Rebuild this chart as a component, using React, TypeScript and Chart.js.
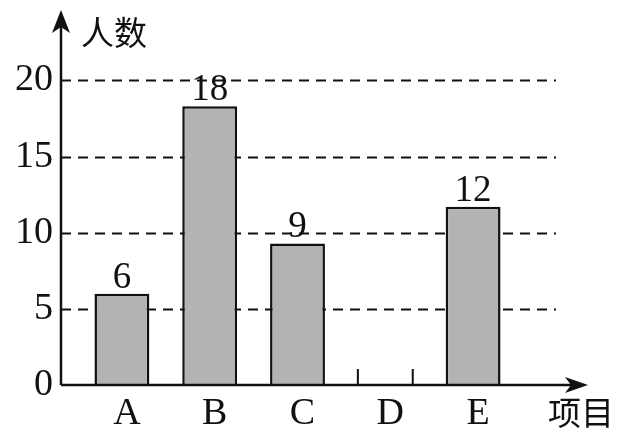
import React, { useEffect, useRef } from 'react';
import { Chart, registerables } from 'chart.js';

Chart.register(...registerables);

const categories = ['A', 'B', 'C', 'D', 'E'];
// bar heights as drawn in the picture (D is left blank)
const counts: (number | null)[] = [6, 18.3, 9.3, null, 11.7];
const valueLabels = ['6', '18', '9', '', '12'];
const yTicks = [0, 5, 10, 15, 20];
const yTitle = '人数';
const xTitle = '项目';

const SERIF = '"Liberation Serif", "DejaVu Serif", serif';
const CJK = '"Noto Sans CJK SC", sans-serif';

const axesPlugin = {
  id: 'axesPlugin',
  beforeDatasetsDraw(chart: any) {
    const { ctx, scales } = chart;
    const axisX = chart.chartArea.left - 17;
    ctx.save();
    ctx.strokeStyle = '#111';
    ctx.lineWidth = 2;
    ctx.setLineDash([10, 7]);
    yTicks.forEach((t) => {
      if (t === 0) return;
      const y = Math.round(scales.y.getPixelForValue(t)) + 0.5;
      ctx.beginPath();
      ctx.moveTo(axisX, y);
      ctx.lineTo(556, y);
      ctx.stroke();
    });
    ctx.restore();
  },
  afterDatasetsDraw(chart: any) {
    const { ctx, scales } = chart;
    const meta = chart.getDatasetMeta(0);
    const axisX = chart.chartArea.left - 17;
    const y0 = scales.y.getPixelForValue(0);
    const xEnd = 588;
    const yEnd = 10;
    ctx.save();
    ctx.strokeStyle = '#111';
    ctx.fillStyle = '#111';
    ctx.lineWidth = 2.5;

    // axes
    ctx.beginPath();
    ctx.moveTo(axisX, y0);
    ctx.lineTo(axisX, yEnd + 12);
    ctx.moveTo(axisX, y0);
    ctx.lineTo(xEnd - 12, y0);
    ctx.stroke();

    // arrow heads
    ctx.beginPath();
    ctx.moveTo(axisX, yEnd);
    ctx.lineTo(axisX - 9, yEnd + 23);
    ctx.lineTo(axisX, yEnd + 17);
    ctx.lineTo(axisX + 9, yEnd + 23);
    ctx.closePath();
    ctx.fill();
    ctx.beginPath();
    ctx.moveTo(xEnd, y0);
    ctx.lineTo(xEnd - 23, y0 - 8);
    ctx.lineTo(xEnd - 17, y0);
    ctx.lineTo(xEnd - 23, y0 + 8);
    ctx.closePath();
    ctx.fill();

    // small edge marks for the blank D bar
    const half = (meta.data[0]?.width ?? 55) / 2;
    const dx = scales.x.getPixelForValue(3);
    ctx.lineWidth = 2;
    ctx.beginPath();
    [dx - half, dx + half].forEach((x) => {
      ctx.moveTo(x, y0);
      ctx.lineTo(x, y0 - 16);
    });
    ctx.stroke();

    // value labels
    ctx.font = `37px ${SERIF}`;
    ctx.textAlign = 'center';
    ctx.textBaseline = 'alphabetic';
    meta.data.forEach((bar: any, i: number) => {
      if (!valueLabels[i] || counts[i] == null) return;
      ctx.fillText(valueLabels[i], bar.x, bar.y - 6);
    });

    // axis titles
    ctx.font = `33px ${CJK}`;
    ctx.textBaseline = 'middle';
    ctx.fillText(yTitle, 114, 32);
    ctx.fillText(xTitle, 581, 412);
    ctx.restore();
  },
};

export default function App() {
  const canvasRef = useRef<HTMLCanvasElement | null>(null);
  const chartRef = useRef<Chart | null>(null);

  useEffect(() => {
    document.body.style.margin = '0';
    if (!canvasRef.current) return;
    if (chartRef.current) chartRef.current.destroy();

    chartRef.current = new Chart(canvasRef.current, {
      type: 'bar',
      data: {
        labels: categories,
        datasets: [
          {
            data: counts,
            backgroundColor: '#b3b3b3',
            borderColor: '#111',
            borderWidth: 2.5,
            categoryPercentage: 1,
            barPercentage: 0.625,
          },
        ],
      },
      options: {
        responsive: false,
        animation: false,
        layout: { padding: { left: 0, right: 108, top: 50, bottom: 0 } },
        plugins: {
          legend: { display: false },
          tooltip: { enabled: false },
        },
        scales: {
          x: {
            afterFit: (s: any) => {
              s.height = 52;
            },
            grid: { display: false, drawTicks: false },
            border: { display: false },
            ticks: {
              color: '#111',
              font: { family: SERIF, size: 38 },
              padding: 6,
              labelOffset: 5,
              maxRotation: 0,
            },
          },
          y: {
            min: 0,
            max: 22,
            afterFit: (s: any) => {
              s.width = 78;
            },
            afterBuildTicks: (s: any) => {
              s.ticks = yTicks.map((v) => ({ value: v }));
            },
            grid: { display: false, drawTicks: false },
            border: { display: false },
            ticks: {
              color: '#111',
              font: { family: SERIF, size: 38 },
              padding: 25,
            },
          },
        },
      },
      plugins: [axesPlugin],
    });

    return () => {
      chartRef.current?.destroy();
      chartRef.current = null;
    };
  }, []);

  return (
    <div style={{ width: 625, height: 437, background: '#fff' }}>
      <canvas ref={canvasRef} width={625} height={437}></canvas>
    </div>
  );
}
